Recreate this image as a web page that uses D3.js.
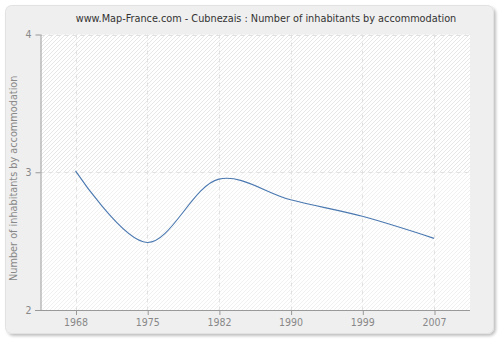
<!DOCTYPE html>
<html>
<head>
<meta charset="utf-8">
<script src="https://cdn.jsdelivr.net/npm/d3@7/dist/d3.min.js"></script>
<style>
  html, body { margin: 0; padding: 0; background: #ffffff; }
  svg { display: block; font-family: "DejaVu Sans Condensed", "DejaVu Sans", Verdana, sans-serif; font-stretch: condensed; }
</style>
</head>
<body>
<svg id="chart" width="500" height="340"></svg>
<script>
// Average number of inhabitants per dwelling, census years
const years = ["1968", "1975", "1982", "1990", "1999", "2007"];
const inhabitants = [3.01, 2.49, 2.95, 2.80, 2.68, 2.52];
const yTicks = [2, 3, 4];
const title = "www.Map-France.com - Cubnezais : Number of inhabitants by accommodation";
const yTitle = "Number of inhabitants by accommodation";

const svg = d3.select("#chart");
const plot = { left: 40.5, right: 470, top: 34.5, bottom: 310 };
const fontFamily = "'DejaVu Sans Condensed', 'DejaVu Sans', Verdana, sans-serif";

// Panel background with soft shadow
const defs = svg.append("defs");
const shadow = defs.append("filter").attr("id", "shadow")
  .attr("x", "-5%").attr("y", "-5%").attr("width", "110%").attr("height", "110%");
shadow.append("feGaussianBlur").attr("in", "SourceAlpha").attr("stdDeviation", 1.5);
shadow.append("feOffset").attr("dx", 1.5).attr("dy", 1.5).attr("result", "off");
shadow.append("feComponentTransfer").append("feFuncA").attr("type", "linear").attr("slope", 0.25);
const merge = shadow.append("feMerge");
merge.append("feMergeNode");
merge.append("feMergeNode").attr("in", "SourceGraphic");

svg.append("rect")
  .attr("x", 5.5).attr("y", 5.5).attr("width", 488).attr("height", 328)
  .attr("rx", 6).attr("ry", 6)
  .attr("fill", "#efefef").attr("stroke", "#e2e2e2").attr("stroke-width", 1)
  .attr("filter", "url(#shadow)");

// Hatch patterns for the plot area
function hatch(id, color) {
  const p = defs.append("pattern").attr("id", id)
    .attr("patternUnits", "userSpaceOnUse").attr("width", 4).attr("height", 4);
  p.append("rect").attr("width", 4).attr("height", 4).attr("fill", "#ffffff");
  p.append("path").attr("d", "M-1,1 l2,-2 M0,4 l4,-4 M3,5 l2,-2")
    .attr("stroke", color).attr("stroke-width", 0.9);
}
hatch("hatchTop", "#e3e3e3");
hatch("hatchBottom", "#eeeeee");

const x = d3.scalePoint().domain(years)
  .range([plot.left + 35, plot.right - 36]);
const y = d3.scaleLinear().domain([2, 4]).range([plot.bottom, plot.top]);

svg.append("rect")
  .attr("x", plot.left).attr("y", plot.top)
  .attr("width", plot.right - plot.left).attr("height", y(3) - plot.top)
  .attr("fill", "url(#hatchTop)");
svg.append("rect")
  .attr("x", plot.left).attr("y", y(3))
  .attr("width", plot.right - plot.left).attr("height", plot.bottom - y(3))
  .attr("fill", "url(#hatchBottom)");

// Dashed grid
const grid = svg.append("g").attr("stroke", "#e0e0e0").attr("stroke-dasharray", "4,4");
grid.selectAll("line.v").data(years).join("line")
  .attr("x1", d => Math.round(x(d)) + 0.5).attr("x2", d => Math.round(x(d)) + 0.5)
  .attr("y1", plot.top).attr("y2", plot.bottom);
grid.selectAll("line.h").data(yTicks).join("line")
  .attr("x1", plot.left).attr("x2", plot.right)
  .attr("y1", d => Math.round(y(d)) + 0.5).attr("y2", d => Math.round(y(d)) + 0.5);

// Axes
const axisColor = "#999999";
const gx = svg.append("g").attr("transform", `translate(0,${plot.bottom})`)
  .call(d3.axisBottom(x).tickSize(5).tickPadding(4).tickSizeOuter(0));
gx.select(".domain").remove();
gx.append("line").attr("x1", 35).attr("x2", plot.right).attr("y1", 0.5).attr("y2", 0.5)
  .attr("stroke", axisColor);
gx.selectAll(".tick line").attr("stroke", axisColor).attr("transform", "translate(0.5,0)");

const gy = svg.append("g").attr("transform", `translate(${plot.left},0)`)
  .call(d3.axisLeft(y).tickValues(yTicks).tickFormat(d3.format("d"))
    .tickSize(5).tickPadding(4).tickSizeOuter(0));
gy.select(".domain").attr("stroke", axisColor).attr("d", `M0.5,${plot.top}V${plot.bottom}`);
gy.selectAll(".tick line").attr("stroke", axisColor);

svg.selectAll(".tick text").attr("fill", "#888888")
  .style("font-family", fontFamily).style("font-size", "10.5px");

// Data line
const line = d3.line()
  .x((d, i) => x(years[i]))
  .y(d => y(d))
  .curve(d3.curveCatmullRom.alpha(0.5));
svg.append("path").datum(inhabitants)
  .attr("d", line)
  .attr("fill", "none")
  .attr("stroke", "#4a78b0")
  .attr("stroke-width", 1.1);

// Titles
svg.append("text")
  .attr("x", 266).attr("y", 22)
  .attr("text-anchor", "middle")
  .attr("fill", "#333333")
  .style("font-family", fontFamily)
  .style("font-size", "10.8px")
  .text(title);

svg.append("text")
  .attr("transform", `translate(17,${(plot.top + plot.bottom) / 2 + 6}) rotate(-90)`)
  .attr("text-anchor", "middle")
  .attr("fill", "#888888")
  .style("font-family", fontFamily)
  .style("font-size", "10.8px")
  .text(yTitle);
</script>
</body>
</html>
